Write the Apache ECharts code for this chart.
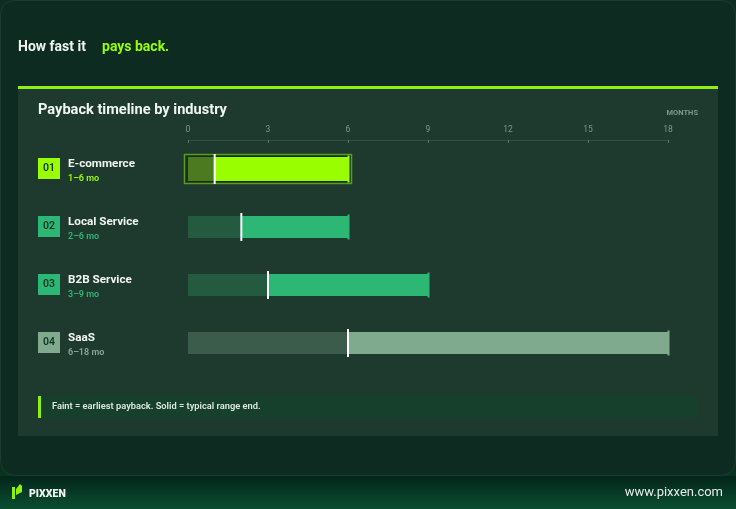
<!DOCTYPE html>
<html>
<head>
<meta charset="utf-8">
<script src="https://cdn.jsdelivr.net/npm/echarts@6/dist/echarts.min.js"></script>
<style>
html,body{margin:0;padding:0;background:#0a3a26;}
#c{width:736px;height:509px;}
</style>
</head>
<body>
<div id="c"></div>
<script>
// ---- data ----
const industries = ['E-commerce', 'Local Service', 'B2B Service', 'SaaS'];
const codes = ['01', '02', '03', '04'];
const minMonths = [1, 2, 3, 6];
const maxMonths = [6, 6, 9, 18];
const axisMin = 0;
const axisMax = 18;
const axisStep = 3;

// ---- styles ----
const palettes = [
  { faint: '#4b7a21', solid: '#99ff00', badge: '#99ff00', sub: '#99ff00' },
  { faint: '#235a40', solid: '#2cb775', badge: '#2cb775', sub: '#2cb775' },
  { faint: '#235a40', solid: '#2cb775', badge: '#2cb775', sub: '#2cb775' },
  { faint: '#3b5c4b', solid: '#7faa8d', badge: '#7faa8d', sub: '#8aa897' }
];
const FONT = 'Roboto';

const seriesData = industries.map((n, i) => [i, minMonths[i], maxMonths[i]]);

const chart = echarts.init(document.getElementById('c'), null, { renderer: 'canvas' });

function renderItem(params, api) {
  const i = api.value(0);
  const lo = api.value(1), hi = api.value(2);
  const p0 = api.coord([axisMin, i]);
  const pLo = api.coord([lo, i]);
  const pHi = api.coord([hi, i]);
  const cy = p0[1];
  const first = i === 0;
  const h = first ? 24 : 22;
  const pal = palettes[i];
  const kids = [];
  if (first) {
    kids.push({ type: 'rect', shape: { x: p0[0] - 3.5, y: cy - 14.5, width: pHi[0] - p0[0] + 7, height: 29 },
      style: { fill: 'rgba(20,40,20,0.6)', stroke: '#5a9a1e', lineWidth: 1.5 } });
  }
  kids.push({ type: 'rect', shape: { x: p0[0], y: cy - h / 2, width: pLo[0] - p0[0], height: h }, style: { fill: pal.faint } });
  kids.push({ type: 'rect', shape: { x: pLo[0], y: cy - h / 2, width: pHi[0] - pLo[0], height: h }, style: { fill: pal.solid } });
  kids.push({ type: 'line', shape: { x1: pHi[0] + 0.5, y1: cy - h / 2 - 1.5, x2: pHi[0] + 0.5, y2: cy + h / 2 + 1.5 }, style: { stroke: pal.solid, lineWidth: 2 } });
  kids.push({ type: 'line', shape: { x1: pLo[0], y1: cy - h / 2 - 3, x2: pLo[0], y2: cy + h / 2 + 3 }, style: { stroke: '#ffffff', lineWidth: 2 } });
  // badge + labels
  kids.push({ type: 'rect', shape: { x: 38, y: cy - 11, width: 22, height: 21 }, style: { fill: pal.badge } });
  kids.push({ type: 'text', style: { x: 49, y: cy - 0.5, text: codes[i], fill: '#123526', font: `600 10.5px ${FONT}`, align: 'center', verticalAlign: 'middle' } });
  kids.push({ type: 'text', style: { x: 68, y: cy - 5, text: industries[i], fill: '#f2f6f3', font: `bold 11.7px ${FONT}`, align: 'left', verticalAlign: 'middle' } });
  kids.push({ type: 'text', style: { x: 68, y: cy + 9.5, text: minMonths[i] + '–' + maxMonths[i] + ' mo', fill: pal.sub, font: `600 9px ${FONT}`, align: 'left', verticalAlign: 'middle' } });
  return { type: 'group', children: kids };
}

const option = {
  backgroundColor: new echarts.graphic.LinearGradient(0, 0, 0, 1, [
    { offset: 0, color: '#0f2e22' }, { offset: 0.9, color: '#05281a' }, { offset: 1, color: '#0b4d31' }
  ]),
  animation: false,
  graphic: [
    { type: 'rect', z: -10, shape: { x: 0, y: 476, width: 736, height: 33 },
      style: { fill: new echarts.graphic.LinearGradient(0, 0, 0, 1, [{ offset: 0, color: '#03251a' }, { offset: 1, color: '#0b4e32' }]) } },
    { type: 'rect', z: -9, shape: { x: 0.5, y: 0.5, width: 735, height: 475, r: 14 },
      style: { fill: '#0d2b20', stroke: '#1e3b2f', lineWidth: 1 } },
    { type: 'rect', z: -8, shape: { x: 18, y: 89, width: 700, height: 347 }, style: { fill: '#1e3a2f' } },
    { type: 'rect', z: -7, shape: { x: 18, y: 86, width: 700, height: 3 }, style: { fill: '#8ef00c' } },
    { type: 'text', z: 5, style: { x: 18, y: 47, text: 'How fast it', fill: '#f0f4f1', font: `bold 14px ${FONT}`, verticalAlign: 'middle' } },
    { type: 'text', z: 5, style: { x: 102, y: 47, text: 'pays back.', fill: '#99ff00', font: `bold 14px ${FONT}`, verticalAlign: 'middle' } },
    { type: 'text', z: 5, style: { x: 38, y: 110, text: 'Payback timeline by industry', fill: '#f2f6f3', font: `bold 14.6px ${FONT}`, verticalAlign: 'middle' } },
    { type: 'text', z: 5, style: { x: 698, y: 113, text: 'MONTHS', fill: '#7c988a', font: `bold 7.5px ${FONT}`, align: 'right', verticalAlign: 'middle' } },
    // note box
    { type: 'rect', z: -6, shape: { x: 38, y: 396, width: 660, height: 22 }, style: { fill: '#163f2c' } },
    { type: 'rect', z: -5, shape: { x: 38, y: 396, width: 3, height: 22 }, style: { fill: '#8ef00c' } },
    { type: 'text', z: 5, style: { x: 52, y: 407, text: 'Faint = earliest payback. Solid = typical range end.', fill: '#dde9e1', font: `600 9.3px ${FONT}`, verticalAlign: 'middle' } },
    // footer
    { type: 'polygon', z: 5, shape: { points: [[12, 487], [15, 487], [15, 499], [12, 499]] }, style: { fill: '#8ef00c' } },
    { type: 'polygon', z: 5, shape: { points: [[16, 489], [20, 484], [22, 486], [22, 492], [16, 495]] }, style: { fill: '#8ef00c' } },
    { type: 'text', z: 5, style: { x: 29, y: 494, text: 'PIXXEN', fill: '#f2f5f3', font: `900 10.5px ${FONT}`, verticalAlign: 'middle' } },
    { type: 'text', z: 5, style: { x: 723, y: 493, text: 'www.pixxen.com', fill: '#e6eeea', font: `13px ${FONT}`, align: 'right', verticalAlign: 'middle' } }
  ],
  grid: { left: 188, right: 68, top: 140, height: 232 },
  xAxis: {
    type: 'value', position: 'top', min: axisMin, max: axisMax, interval: axisStep,
    axisLine: { show: true, lineStyle: { color: '#2d5243', width: 1 } },
    axisTick: { show: true, inside: true, length: 3, lineStyle: { color: '#557a68' } },
    axisLabel: { color: '#7c988a', fontSize: 8.5, fontFamily: FONT, margin: 6 },
    splitLine: { show: false }
  },
  yAxis: {
    type: 'category', data: industries, inverse: true,
    axisLine: { show: false }, axisTick: { show: false }, axisLabel: { show: false }, splitLine: { show: false }
  },
  series: [{
    type: 'custom', renderItem: renderItem, clip: false,
    encode: { x: [1, 2], y: 0 },
    data: seriesData
  }]
};
chart.setOption(option);
</script>
</body>
</html>
